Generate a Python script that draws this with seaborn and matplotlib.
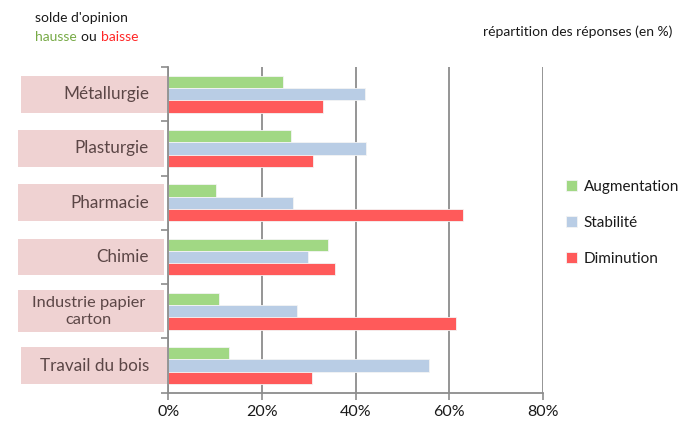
import matplotlib
matplotlib.use("Agg")
import matplotlib.pyplot as plt
import matplotlib.transforms as mtransforms
from matplotlib.patches import Rectangle
from matplotlib.ticker import FixedLocator, PercentFormatter
import seaborn as sns
import pandas as pd

secteurs = ["Métallurgie", "Plasturgie", "Pharmacie", "Chimie",
            "Industrie papier\ncarton", "Travail du bois"]
series = ["Augmentation", "Stabilité", "Diminution"]
augmentation = [24.5, 26.2, 10.1, 34.1, 10.7, 13.0]
stabilite = [42.0, 42.1, 26.5, 29.7, 27.4, 55.6]
diminution = [32.9, 30.9, 62.9, 35.6, 61.4, 30.7]
couleurs = ["#a1d884", "#b9cde5", "#ff5a5a"]
x_ticks = [0, 20, 40, 60, 80]

df = pd.DataFrame({
    "secteur": secteurs * 3,
    "serie": [s for s in series for _ in secteurs],
    "valeur": augmentation + stabilite + diminution,
})

sns.set_theme(style="white")
plt.rcParams["font.family"] = ["Lato", "DejaVu Sans"]

W, H = 678.0, 423.0
fig = plt.figure(figsize=(W / 100, H / 100), dpi=100)
ax = fig.add_axes([0.2485, 0.0717, 0.8010 - 0.2485, 0.8416 - 0.0717])

sns.barplot(data=df, y="secteur", x="valeur", hue="serie", order=secteurs,
            hue_order=series, palette=couleurs, saturation=1, orient="h",
            width=0.68, edgecolor="#f4f4f4", linewidth=0.6, ax=ax,
            legend=True)

grid_col = "#8c8c8c"
ax.set_xlim(0, 80)
ax.set_ylim(len(secteurs) - 0.5, -0.5)
ax.xaxis.set_major_locator(FixedLocator(x_ticks))
ax.xaxis.set_major_formatter(PercentFormatter(decimals=0))
ax.grid(axis="x", color=grid_col, linewidth=1.3)
ax.set_axisbelow(True)
for side in ["top", "right"]:
    ax.spines[side].set_visible(False)
for side in ["left", "bottom"]:
    ax.spines[side].set_color(grid_col)
    ax.spines[side].set_linewidth(1.3)

# ticks on the category boundaries, no tick text
ax.set_yticks([i - 0.5 for i in range(len(secteurs) + 1)])
ax.set_yticklabels([])
ax.tick_params(axis="y", left=True, length=5, width=1.2, color=grid_col)
ax.tick_params(axis="x", bottom=True, length=5, width=1.2, color=grid_col,
               labelsize=11.5, labelcolor="#1a1a1a", pad=4)
ax.set_xlabel("")
ax.set_ylabel("")

# category labels in shaded boxes at the left of the axis
trans = mtransforms.blended_transform_factory(fig.transFigure, ax.transData)
box_x = [(21, 167), (18, 164), (18, 164), (18, 164), (18, 164), (21, 167)]
for i, (nom, (x0, x1)) in enumerate(zip(secteurs, box_x)):
    h = 0.78 if "\n" in nom else 0.68
    ax.add_patch(Rectangle((x0 / W, i - h / 2), (x1 - x0) / W, h,
                           transform=trans, facecolor="#efd2d2",
                           edgecolor="none", clip_on=False, zorder=0))
    if "\n" in nom:
        ax.text((x0 + x1) / 2 / W - 0.003, i, nom, transform=trans,
                ha="center", va="center", fontsize=11.8, color="#5b4646",
                linespacing=1.3)
    else:
        ax.text(149 / W, i, nom, transform=trans, ha="right", va="center",
                fontsize=12.3, color="#5b4646")

# legend on the right
leg = ax.legend(loc="center left", bbox_to_anchor=(566 / W, 1 - 223 / H),
                bbox_transform=fig.transFigure, frameon=False,
                borderpad=0, borderaxespad=0,
                fontsize=11, handlelength=0.75, handleheight=0.75,
                handletextpad=0.4, labelspacing=1.45)
for t in leg.get_texts():
    t.set_color("#1a1a1a")

# header texts
fig.text(35 / W, 1 - 18 / H, "solde d'opinion", fontsize=10,
         color="#1a1a1a", va="center")
renderer = fig.canvas.get_renderer()
x_px = 35.0
for mot, col in [("hausse ", "#77aa46"), ("ou ", "#1a1a1a"),
                 ("baisse", "#ff2626")]:
    t = fig.text(x_px / W, 1 - 37 / H, mot, fontsize=10, color=col,
                 va="center")
    x_px += t.get_window_extent(renderer).width + 1
fig.text(672 / W, 1 - 32 / H, "répartition des réponses (en %)",
         fontsize=10, color="#1a1a1a", ha="right", va="center")

fig.savefig("out.png", dpi=100)
